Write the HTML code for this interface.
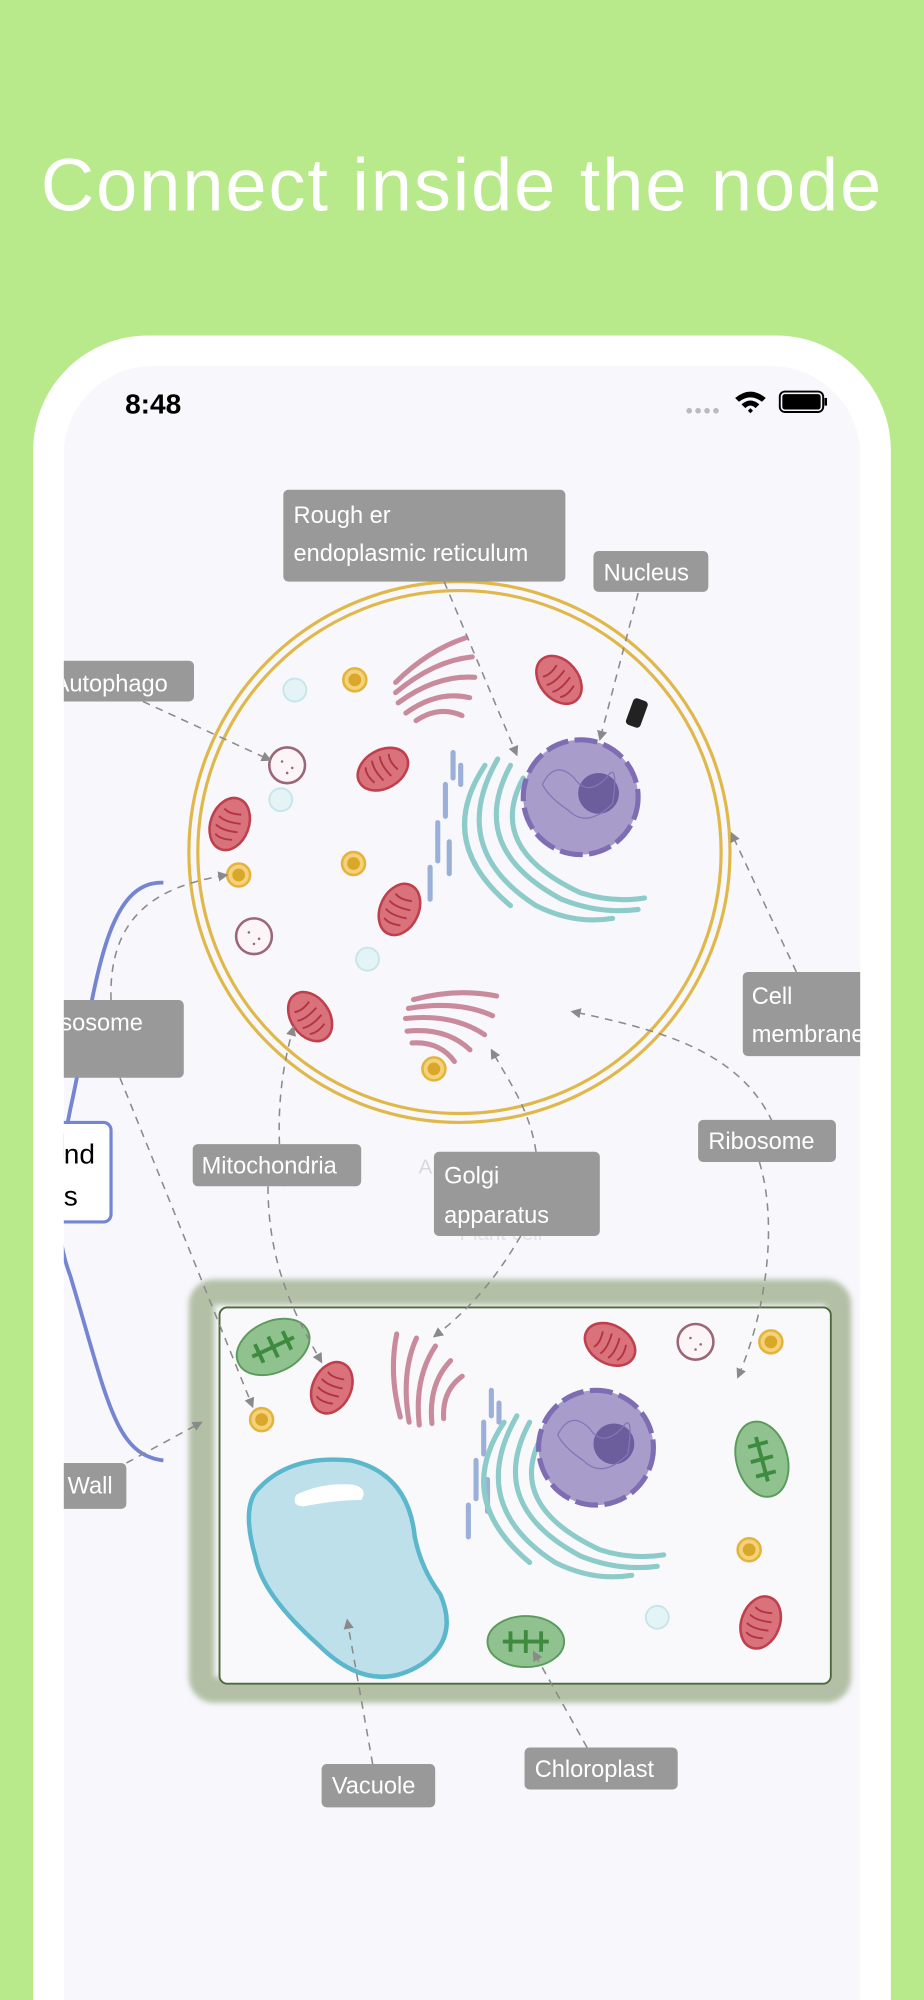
<!DOCTYPE html>
<html><head><meta charset="utf-8"><style>
html,body{margin:0;padding:0;background:#b8e98a;width:924px;height:2000px;overflow:hidden}
svg{display:block}
text{font-family:"Liberation Sans",sans-serif}
</style></head><body>
<svg width="924" height="2000" viewBox="0 0 724 1568" preserveAspectRatio="none">
<defs>
<clipPath id="scr"><rect x="50" y="287" width="624" height="1400" rx="70"/></clipPath>
<filter id="blur"><feGaussianBlur stdDeviation="2"/></filter>
<marker id="ar" markerWidth="8" markerHeight="8" refX="7" refY="4" orient="auto" markerUnits="userSpaceOnUse"><path d="M0,0 L8,4 L0,8 z" fill="#8a8a8a"/></marker>
<g id="mito"><ellipse cx="0" cy="0" rx="15" ry="21" fill="#d9727a" stroke="#bf3f4c" stroke-width="2"/><path d="M-8,-10 q5,3 14,0 M-10,-3 q6,3 18,0 M-10,4 q6,3 18,0 M-8,11 q5,3 14,0" stroke="#b23442" stroke-width="1.5" fill="none"/></g>
<g id="yel"><circle r="9" fill="#f5d27a" stroke="#e3b43c" stroke-width="2"/><circle r="5" fill="#d9a82a"/></g>
<g id="lys"><circle r="14" fill="#fbf5f7" stroke="#9b6676" stroke-width="2"/><circle cx="-4" cy="-3" r="1" fill="#9b6676"/><circle cx="4" cy="2" r="1" fill="#9b6676"/><circle cx="0" cy="6" r="1" fill="#9b6676"/></g>
<g id="cya"><circle r="9" fill="#e4f4f6" stroke="#c7e6ea" stroke-width="1.5"/></g>
<g id="golgi" fill="none" stroke="#c98b9b" stroke-width="4" stroke-linecap="round"><path d="M-30,10 q25,-25 55,-35"/><path d="M-30,18 q30,-25 60,-28"/><path d="M-28,26 q30,-22 60,-20"/><path d="M-22,34 q25,-18 50,-12"/><path d="M-14,40 q18,-12 36,-4"/></g>
<g id="er" fill="none" stroke="#8ccbc9" stroke-width="4" stroke-linecap="round"><path d="M-50,-60 q-40,60 20,110"/><path d="M-40,-65 q-40,70 30,115 q30,15 60,10"/><path d="M-30,-60 q-35,65 40,105 q30,12 60,8"/><path d="M-20,-50 q-30,55 45,90 q25,8 50,4"/></g>
<g id="ser" fill="none" stroke="#9bb0d8" stroke-width="4" stroke-linecap="round"><path d="M0,-50 v20 M-6,-25 v25 M-12,5 v30 M-18,40 v25 M-3,20 v25 M6,-40 v15"/></g>
<g id="nuc"><circle r="45" fill="#a89cca" stroke="#7f6db4" stroke-width="4" stroke-dasharray="18 5"/><circle cx="14" cy="-3" r="16" fill="#6c5d9c"/><path d="M-30,-10 q10,-20 25,-5 q10,15 25,0 q10,-15 5,20 q-20,20 -35,5 q-15,-10 -20,-20" stroke="#8575b8" fill="none" stroke-width="1"/></g>
<g id="chl"><ellipse rx="30" ry="20" fill="#8fc28f" stroke="#5a9a5a" stroke-width="1.5"/><path d="M-18,0 h36 M-12,-8 v16 M0,-9 v18 M12,-8 v16" stroke="#3e8a3e" stroke-width="3"/></g>
</defs>
<text x="362" y="165" text-anchor="middle" font-size="58" fill="#fff" letter-spacing="1.5">Connect inside the node</text>
<rect x="26" y="263" width="672" height="1400" rx="90" fill="#fff"/>
<rect x="50" y="287" width="624" height="1400" rx="70" fill="#f7f7fc"/>
<text x="98" y="324" font-size="22" font-weight="bold" fill="#000">8:48</text>
<g fill="#bbb"><circle cx="540" cy="322" r="2.2"/><circle cx="547" cy="322" r="2.2"/><circle cx="554" cy="322" r="2.2"/><circle cx="561" cy="322" r="2.2"/></g>
<path d="M576,312 q12,-10 24,0 l-3,3 q-9,-7 -18,0z M581,317 q7,-6 14,0 l-3,3 q-4,-4 -8,0z M586,322 l2,-2 l2,2 l-2,2z" fill="#000"/>
<rect x="611" y="307" width="34" height="16" rx="4" fill="none" stroke="#000" stroke-width="1.5"/><rect x="613" y="309" width="30" height="12" rx="2" fill="#000"/><rect x="646" y="312" width="2" height="6" fill="#000"/>
<g clip-path="url(#scr)">
<path d="M128,692 C80,690 75,780 55,870 C45,920 40,960 55,1000 C85,1100 90,1140 128,1145" fill="none" stroke="#7485d2" stroke-width="3"/>
<rect x="30" y="880" width="57" height="78" rx="6" fill="#fff" stroke="#7485d2" stroke-width="2.5"/>
<text x="50" y="912" font-size="22" fill="#000">nd</text><text x="50" y="945" font-size="22" fill="#000">s</text>
<text x="328" y="920" font-size="16" fill="#d8d8e0">A</text><text x="360" y="972" font-size="16" fill="#e2e2ea">Plant cell</text>
<circle cx="360" cy="668" r="212" fill="none" stroke="#e0b84a" stroke-width="2.5"/>
<circle cx="360" cy="668" r="205" fill="none" stroke="#e0b84a" stroke-width="2.5"/>
<use href="#golgi" x="340" y="525"/><use href="#golgi" x="355" y="790" transform="rotate(30 355 790)"/>
<use href="#mito" x="438" y="533" transform="rotate(-40 438 533)"/><use href="#mito" x="300" y="603" transform="rotate(60 300 603)"/>
<use href="#mito" x="180" y="646" transform="rotate(20 180 646)"/><use href="#mito" x="313" y="713" transform="rotate(25 313 713)"/>
<use href="#mito" x="243" y="797" transform="rotate(-35 243 797)"/>
<use href="#yel" x="278" y="533"/><use href="#yel" x="277" y="677"/><use href="#yel" x="187" y="686"/><use href="#yel" x="340" y="838"/>
<use href="#lys" x="225" y="600"/><use href="#lys" x="199" y="734"/>
<use href="#cya" x="231" y="541"/><use href="#cya" x="220" y="627"/><use href="#cya" x="288" y="752"/>
<use href="#ser" x="355" y="640"/><use href="#er" x="430" y="660"/>
<use href="#nuc" x="455" y="625"/>
<rect x="493" y="548" width="12" height="22" rx="3" fill="#222" transform="rotate(20 499 559)"/>
<rect x="158" y="1013" width="499" height="312" rx="10" fill="none" stroke="#b3c0a6" stroke-width="20" filter="url(#blur)"/>
<rect x="172" y="1025" width="479" height="295" rx="6" fill="#f9f9fc" stroke="#4f6a3a" stroke-width="1.5"/>
<use href="#chl" x="214" y="1056" transform="rotate(-25 214 1056)"/><use href="#chl" x="597" y="1144" transform="rotate(75 597 1144)"/><use href="#chl" x="412" y="1287"/>
<use href="#mito" x="260" y="1088" transform="rotate(25 260 1088)"/><use href="#mito" x="478" y="1054" transform="rotate(-60 478 1054)"/><use href="#mito" x="596" y="1272" transform="rotate(20 596 1272)"/>
<use href="#golgi" x="320" y="1080" transform="rotate(-60 320 1080)"/>
<use href="#yel" x="205" y="1113"/><use href="#yel" x="604" y="1052"/><use href="#yel" x="587" y="1215"/>
<use href="#lys" x="545" y="1052"/><use href="#cya" x="515" y="1268"/>
<use href="#ser" x="385" y="1140"/><use href="#er" x="445" y="1175"/>
<use href="#nuc" x="467" y="1135"/>
<path d="M200,1170 q25,-30 75,-25 q45,10 50,60 q5,25 20,45 q15,35 -15,55 q-40,25 -80,-15 q-45,-40 -50,-70 q-10,-35 0,-50z" fill="#bde0ea" stroke="#5bb7cc" stroke-width="3.5"/>
<path d="M232,1172 q20,-10 45,-8 q12,3 6,12 q-20,0 -45,5 q-10,0 -6,-9z" fill="#fff"/>
<g fill="none" stroke="#8a8a8a" stroke-width="1.2" stroke-dasharray="6 5" marker-end="url(#ar)">
<path d="M348,456 L405,592"/><path d="M500,465 L470,580"/><path d="M112,550 L212,596"/>
<path d="M624,762 L573,653"/><path d="M87,784 C85,720 120,695 178,686"/><path d="M94,845 L198,1103"/>
<path d="M222,930 C215,880 220,840 230,805"/><path d="M420,903 C415,870 400,850 385,823"/>
<path d="M615,911 C600,830 530,810 448,793"/><path d="M408,969 C390,1000 370,1025 340,1048"/>
<path d="M210,930 C210,990 230,1030 252,1068"/><path d="M595,911 C610,960 600,1030 578,1080"/>
<path d="M99,1147 L158,1115"/><path d="M292,1383 L272,1270"/><path d="M460,1370 L418,1295"/>
</g>
<g fill="#999"><rect x="222" y="384" width="221" height="72" rx="4"/><rect x="465" y="432" width="90" height="32" rx="4"/>
<rect x="30" y="518" width="122" height="32" rx="4"/><rect x="30" y="784" width="114" height="61" rx="4"/>
<rect x="582" y="762" width="110" height="66" rx="4"/><rect x="151" y="897" width="132" height="33" rx="4"/>
<rect x="340" y="903" width="130" height="66" rx="4"/><rect x="547" y="878" width="108" height="33" rx="4"/>
<rect x="30" y="1147" width="69" height="36" rx="4"/><rect x="252" y="1383" width="89" height="34" rx="4"/><rect x="411" y="1370" width="120" height="33" rx="4"/></g>
<g fill="#fff" font-size="18.5">
<text x="230" y="410">Rough er</text><text x="230" y="440">endoplasmic reticulum</text>
<text x="473" y="455">Nucleus</text><text x="42" y="542">Autophago</text><text x="38" y="808">ysosome</text>
<text x="589" y="787">Cell</text><text x="589" y="817">membrane</text>
<text x="158" y="920">Mitochondria</text><text x="348" y="928">Golgi</text><text x="348" y="959">apparatus</text>
<text x="555" y="901">Ribosome</text><text x="53" y="1171">Wall</text><text x="260" y="1406">Vacuole</text><text x="419" y="1393">Chloroplast</text>
</g>
</g>
</svg>
</body></html>
